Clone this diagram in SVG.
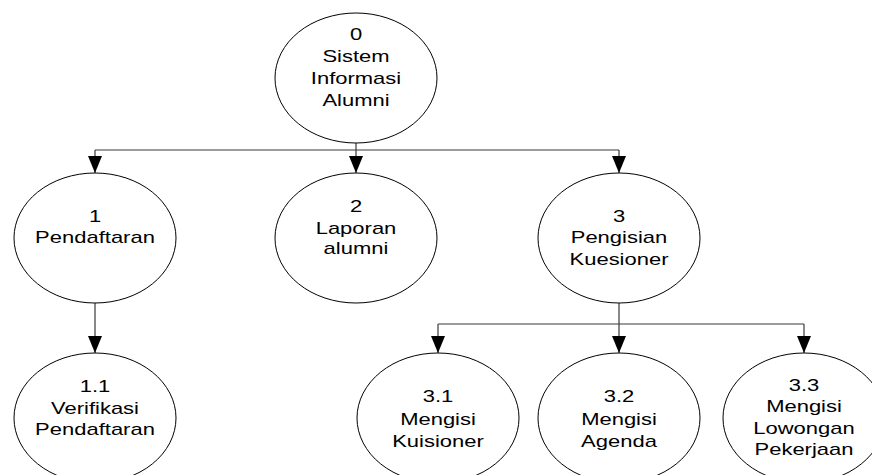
<svg xmlns="http://www.w3.org/2000/svg" width="872" height="475" viewBox="0 0 872 475">
  <style>
    .proc { fill: #ffffff; stroke: #000000; stroke-width: 1; }
    .lbl { font-family: "Liberation Sans", Arial, sans-serif; font-size: 16px; fill: #000000; text-anchor: middle; }
    .flow { fill: none; stroke: #3a3a3a; stroke-width: 1.2; }
  </style>
  <defs>
    <!-- solid triangular head, tip at the end of the line -->
    <marker id="arrow" markerUnits="userSpaceOnUse" markerWidth="18" markerHeight="16" refX="17" refY="8" orient="auto" viewBox="0 0 18 16">
      <path d="M0,1 L17,8 L0,15 Z" fill="#000000"/>
    </marker>
  </defs>

  <rect width="872" height="475" fill="#ffffff"/>

  <!-- connectors -->
  <g id="connectors">
    <path class="flow" d="M356,143 V150 M95,150 H619"/>
    <path class="flow" d="M95,150 V173" marker-end="url(#arrow)"/>
    <path class="flow" d="M356,150 V173" marker-end="url(#arrow)"/>
    <path class="flow" d="M619,150 V173" marker-end="url(#arrow)"/>
    <path class="flow" d="M95,303 V353" marker-end="url(#arrow)"/>
    <path class="flow" d="M619,303 V324 M438,324 H804"/>
    <path class="flow" d="M438,324 V353" marker-end="url(#arrow)"/>
    <path class="flow" d="M619,324 V353" marker-end="url(#arrow)"/>
    <path class="flow" d="M804,324 V353" marker-end="url(#arrow)"/>
  </g>

  <!-- process 0 -->
  <g id="p0">
    <ellipse class="proc" cx="356" cy="78" rx="81" ry="65"/>
    <g transform="translate(356,0) scale(1.375,1)">
      <text class="lbl" x="0" y="40">0</text>
      <text class="lbl" x="0" y="62">Sistem</text>
      <text class="lbl" x="0" y="84">Informasi</text>
      <text class="lbl" x="0" y="106">Alumni</text>
    </g>
  </g>

  <!-- process 1 -->
  <g id="p1">
    <ellipse class="proc" cx="95" cy="238" rx="81" ry="65"/>
    <g transform="translate(95,0) scale(1.375,1)">
      <text class="lbl" x="0" y="222">1</text>
      <text class="lbl" x="0" y="243">Pendaftaran</text>
    </g>
  </g>

  <!-- process 2 -->
  <g id="p2">
    <ellipse class="proc" cx="356" cy="238" rx="81" ry="65"/>
    <g transform="translate(356,0) scale(1.375,1)">
      <text class="lbl" x="0" y="212">2</text>
      <text class="lbl" x="0" y="234">Laporan</text>
      <text class="lbl" x="0" y="254">alumni</text>
    </g>
  </g>

  <!-- process 3 -->
  <g id="p3">
    <ellipse class="proc" cx="619" cy="238" rx="81" ry="65"/>
    <g transform="translate(619,0) scale(1.375,1)">
      <text class="lbl" x="0" y="222">3</text>
      <text class="lbl" x="0" y="243">Pengisian</text>
      <text class="lbl" x="0" y="265">Kuesioner</text>
    </g>
  </g>

  <!-- process 1.1 -->
  <g id="p1_1">
    <ellipse class="proc" cx="95" cy="418" rx="81" ry="65"/>
    <g transform="translate(95,0) scale(1.375,1)">
      <text class="lbl" x="0" y="392">1.1</text>
      <text class="lbl" x="0" y="414">Verifikasi</text>
      <text class="lbl" x="0" y="435">Pendaftaran</text>
    </g>
  </g>

  <!-- process 3.1 -->
  <g id="p3_1">
    <ellipse class="proc" cx="438" cy="418" rx="81" ry="65"/>
    <g transform="translate(438,0) scale(1.375,1)">
      <text class="lbl" x="0" y="402">3.1</text>
      <text class="lbl" x="0" y="425">Mengisi</text>
      <text class="lbl" x="0" y="447">Kuisioner</text>
    </g>
  </g>

  <!-- process 3.2 -->
  <g id="p3_2">
    <ellipse class="proc" cx="619" cy="418" rx="81" ry="65"/>
    <g transform="translate(619,0) scale(1.375,1)">
      <text class="lbl" x="0" y="402">3.2</text>
      <text class="lbl" x="0" y="425">Mengisi</text>
      <text class="lbl" x="0" y="447">Agenda</text>
    </g>
  </g>

  <!-- process 3.3 -->
  <g id="p3_3">
    <ellipse class="proc" cx="804" cy="418" rx="81" ry="65"/>
    <g transform="translate(804,0) scale(1.375,1)">
      <text class="lbl" x="0" y="391">3.3</text>
      <text class="lbl" x="0" y="412">Mengisi</text>
      <text class="lbl" x="0" y="434">Lowongan</text>
      <text class="lbl" x="0" y="455">Pekerjaan</text>
    </g>
  </g>
</svg>
